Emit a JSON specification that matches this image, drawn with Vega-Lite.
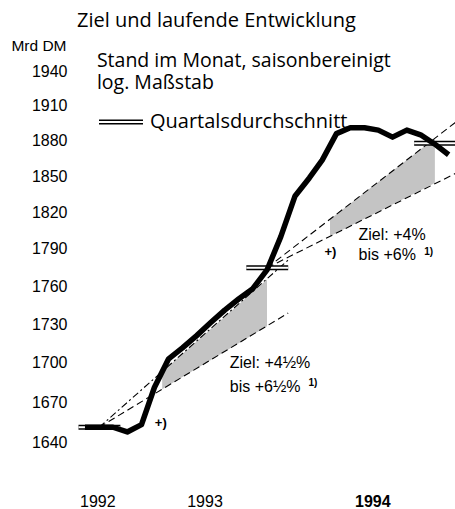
{
  "$schema": "https://vega.github.io/schema/vega-lite/v6.json",
  "width": 383,
  "height": 420,
  "autosize": {"type": "none"},
  "padding": {"left": 73, "top": 60, "right": 0, "bottom": 29},
  "background": "white",
  "title": {"text": "Ziel und laufende Entwicklung", "anchor": "start", "frame": "group", "font": "Open Sans", "fontSize": 20, "fontWeight": "normal", "color": "black", "dx": 4, "offset": 7},
  "config": {"view": {"stroke": null}, "font": "Open Sans"},
  "datasets": {
    "m": [
      {"d": "1992-10-15", "v": 1651},
      {"d": "1992-11-15", "v": 1651},
      {"d": "1992-12-15", "v": 1651},
      {"d": "1993-01-15", "v": 1647.5},
      {"d": "1993-02-15", "v": 1653},
      {"d": "1993-03-15", "v": 1681},
      {"d": "1993-04-15", "v": 1703},
      {"d": "1993-05-15", "v": 1711.5},
      {"d": "1993-06-15", "v": 1721},
      {"d": "1993-07-15", "v": 1731},
      {"d": "1993-08-15", "v": 1741},
      {"d": "1993-09-15", "v": 1750},
      {"d": "1993-10-15", "v": 1758},
      {"d": "1993-11-15", "v": 1773},
      {"d": "1993-12-15", "v": 1800},
      {"d": "1994-01-15", "v": 1833.5},
      {"d": "1994-02-15", "v": 1848.5},
      {"d": "1994-03-15", "v": 1863.5},
      {"d": "1994-04-15", "v": 1886},
      {"d": "1994-05-15", "v": 1891},
      {"d": "1994-06-15", "v": 1891},
      {"d": "1994-07-15", "v": 1889},
      {"d": "1994-08-15", "v": 1883},
      {"d": "1994-09-15", "v": 1889},
      {"d": "1994-10-15", "v": 1885},
      {"d": "1994-11-15", "v": 1877},
      {"d": "1994-12-15", "v": 1868}
    ],
    "q": [
      {"type": "Quartalsdurchschnitt", "d": "1992-10-01", "d2": "1992-12-31", "v": 1651},
      {"type": "Quartalsdurchschnitt", "d": "1993-10-01", "d2": "1993-12-31", "v": 1774.7},
      {"type": "Quartalsdurchschnitt", "d": "1994-10-01", "d2": "1994-12-31", "v": 1877.7}
    ],
    "corr": [
      {"c": "1993o", "d": "1992-11-15", "v": 1651},
      {"c": "1993o", "d": "1993-12-31", "v": 1781.0},
      {"c": "1993u", "d": "1992-11-15", "v": 1651},
      {"c": "1993u", "d": "1993-12-31", "v": 1738.7},
      {"c": "1994o", "d": "1993-11-15", "v": 1774.7},
      {"c": "1994o", "d": "1994-12-31", "v": 1896.0},
      {"c": "1994u", "d": "1993-11-15", "v": 1774.7},
      {"c": "1994u", "d": "1994-12-31", "v": 1852.5}
    ],
    "shade": [
      {"c": "1993", "d": "1993-04-01", "v": 1679.6, "v2": 1693.0},
      {"c": "1993", "d": "1993-11-15", "v": 1728.4, "v2": 1765.4},
      {"c": "1994", "d": "1994-04-01", "v": 1800.3, "v2": 1814.2},
      {"c": "1994", "d": "1994-11-15", "v": 1844.2, "v2": 1882.0}
    ],
    "notes": [
      {"k": "sub", "t": ["Stand im Monat, saisonbereinigt", "log. Maßstab"], "d": "1992-11-10", "v": 1948.7},
      {"k": "ziel", "t": "Ziel: +4½%", "d": "1993-08-26", "v": 1699.8},
      {"k": "ziel", "t": "bis +6½%", "d": "1993-08-26", "v": 1681.4},
      {"k": "sup", "t": "1)", "d": "1994-02-13", "v": 1684.5},
      {"k": "ziel", "t": "Ziel: +4%", "d": "1994-06-02", "v": 1801.3},
      {"k": "ziel", "t": "bis +6%", "d": "1994-06-02", "v": 1785.1},
      {"k": "sup", "t": "1)", "d": "1994-10-23", "v": 1787.5},
      {"k": "plus", "t": "+)", "d": "1993-03-16", "v": 1654.2},
      {"k": "plus", "t": "+)", "d": "1994-03-20", "v": 1787.5}
    ]
  },
  "encoding": {
    "x": {
      "field": "d", "type": "temporal", "title": null,
      "scale": {"domain": [{"year": 1992, "month": 9, "date": 19}, {"year": 1994, "month": 12, "date": 31}]},
      "axis": {
        "values": [{"year": 1992, "month": 11, "date": 11}, {"year": 1993, "month": 7, "date": 2}, {"year": 1994, "month": 7, "date": 2}],
        "labelExpr": "timeFormat(datum.value, '%Y')",
        "labelFontWeight": {"condition": {"test": "year(datum.value) == 1994", "value": "bold"}, "value": "normal"},
        "labelFont": "Liberation Sans",
        "labelFontSize": 16, "labelColor": "black", "labelPadding": 13,
        "ticks": false, "domain": false, "grid": false, "labelFlush": false, "labelOverlap": false
      }
    },
    "y": {
      "field": "v", "type": "quantitative",
      "scale": {"type": "log", "domain": [1612, 1950]},
      "axis": {
        "values": [1640, 1670, 1700, 1730, 1760, 1790, 1820, 1850, 1880, 1910, 1940],
        "format": "d",
        "title": "Mrd DM", "titleAngle": 0, "titleAlign": "right", "titleBaseline": "middle",
        "titleX": -7, "titleY": -15,
        "titleFont": "Liberation Sans",
        "titleFontSize": 15.5, "titleFontWeight": "normal", "titleColor": "black",
        "labelFont": "Liberation Sans",
        "labelFontSize": 16, "labelColor": "black", "labelPadding": 6,
        "ticks": false, "domain": false, "grid": false, "labelOverlap": false
      }
    }
  },
  "layer": [
    {
      "data": {"name": "shade"},
      "mark": {"type": "area", "color": "#c4c4c4"},
      "encoding": {"y2": {"field": "v2"}, "detail": {"field": "c"}}
    },
    {
      "data": {"name": "corr"},
      "transform": [{"filter": "datum.c == '1993o'"}],
      "mark": {"type": "line", "color": "black", "strokeWidth": 1.1, "strokeDash": [7, 3, 2, 3]},
      "encoding": {"detail": {"field": "c"}}
    },
    {
      "data": {"name": "corr"},
      "transform": [{"filter": "datum.c != '1993o'"}],
      "mark": {"type": "line", "color": "black", "strokeWidth": 1.1, "strokeDash": [7, 4]},
      "encoding": {"detail": {"field": "c"}}
    },
    {
      "data": {"name": "q"},
      "mark": {"type": "rule", "strokeWidth": 5},
      "encoding": {
        "x2": {"field": "d2"},
        "color": {
          "field": "type", "type": "nominal",
          "scale": {"range": ["black"]},
          "legend": {
            "title": null, "orient": "none", "legendX": 25, "legendY": 39,
            "padding": 0,
            "symbolType": "M-1,-0.08H1M-1,0.08H1", "symbolSize": 1936, "symbolStrokeWidth": 1.4,
            "labelFont": "Open Sans", "labelFontSize": 20, "labelColor": "black", "labelOffset": 6, "labelLimit": 400
          }
        }
      }
    },
    {
      "data": {"name": "q"},
      "mark": {"type": "rule", "strokeWidth": 2, "color": "white"},
      "encoding": {"x2": {"field": "d2"}}
    },
    {
      "data": {"name": "m"},
      "mark": {"type": "line", "color": "black", "strokeWidth": 5.5, "strokeJoin": "round", "strokeCap": "butt"}
    },
    {
      "data": {"name": "notes"},
      "transform": [{"filter": "datum.k == 'sub'"}],
      "mark": {"type": "text", "align": "left", "baseline": "middle", "font": "Open Sans", "fontSize": 19.5, "lineHeight": 22, "color": "black"},
      "encoding": {"text": {"field": "t"}}
    },
    {
      "data": {"name": "notes"},
      "transform": [{"filter": "datum.k == 'ziel'"}],
      "mark": {"type": "text", "align": "left", "baseline": "middle", "font": "Liberation Sans", "fontSize": 16, "color": "black"},
      "encoding": {"text": {"field": "t"}}
    },
    {
      "data": {"name": "notes"},
      "transform": [{"filter": "datum.k == 'sup'"}],
      "mark": {"type": "text", "align": "left", "baseline": "middle", "font": "Liberation Sans", "fontSize": 10, "fontWeight": "bold", "color": "black"},
      "encoding": {"text": {"field": "t"}}
    },
    {
      "data": {"name": "notes"},
      "transform": [{"filter": "datum.k == 'plus'"}],
      "mark": {"type": "text", "align": "left", "baseline": "middle", "font": "Liberation Sans", "fontSize": 13, "fontWeight": "bold", "color": "black"},
      "encoding": {"text": {"field": "t"}}
    }
  ]
}
